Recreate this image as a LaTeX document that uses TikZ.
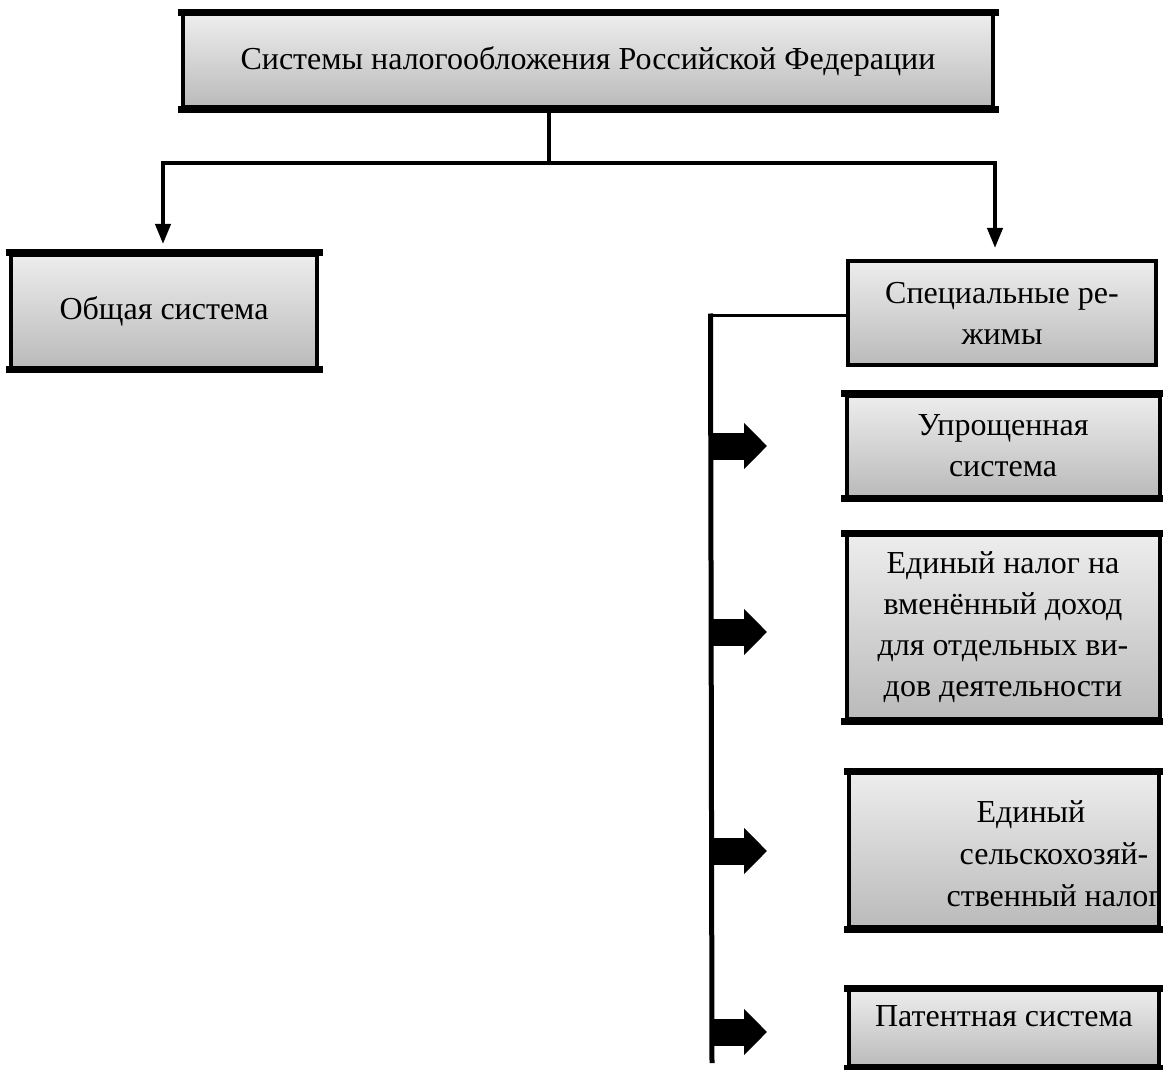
\documentclass[tikz,border=0pt]{standalone}
\usepackage{fontspec}
\setmainfont{Liberation Serif}
\usetikzlibrary{arrows.meta}
\begin{document}
\begin{tikzpicture}[x=1pt,y=-1pt,
  box/.style={draw=black, line width=4pt, top color=black!7, bottom color=black!27,
    inner sep=0pt, align=center, font=\fontsize{32}{41}\selectfont},
  edge/.style={line width=7pt, line cap=rect},
  thin/.style={line width=4pt},
  trunk/.style={line width=5pt},
  down/.style={line width=4pt, -{Triangle[length=20pt,width=15pt]}},
  blockarrow/.style={line width=27pt, -{Triangle[length=23pt,width=45pt]}}]
\useasboundingbox[fill=white] (0,0) rectangle (1163,1070);

\node[box, minimum width=810pt, minimum height=93pt] (top) at (588,61)
  {Системы налогообложения Российской Федерации};
\node[box, minimum width=306pt, minimum height=113pt] (gen) at (164,311) {Общая система};
\node[box, minimum width=308pt, minimum height=104pt, line width=3.5pt] (spec) at (1002,313)
  {Специальные ре-\\ жимы};
\node[box, minimum width=313pt, minimum height=101pt] (usn) at (1003,446)
  {Упрощенная\\ система};
\node[box, minimum width=313pt, minimum height=184pt] (envd) at (1003,627)
  {Единый налог на\\ вменённый доход\\ для отдельных ви-\\ дов деятельности};
\node[box, minimum width=310pt, minimum height=154pt,
  path picture={\node[align=center, font=\fontsize{32}{42}\selectfont]
    at ([xshift=50pt, yshift=-4pt]path picture bounding box.center)
    {Единый\hspace*{46pt}\\ сельскохозяй-\\ ственный налог};}] (eshn) at (1004,850) {};
\node[box, minimum width=310pt, minimum height=76pt, text depth=24pt] (pat) at (1004,1028)
  {Патентная система};

% heavier top and bottom edges
\foreach \n in {top,gen,usn,envd,eshn,pat}{
  \draw[edge] (\n.north west) -- (\n.north east);
  \draw[edge] (\n.south west) -- (\n.south east);
}

% top tree
\coordinate (hub) at (549,163);
\coordinate (hl) at (163,163);
\coordinate (hr) at (995,163);
\draw[thin] (top.south -| hub) -- (hub);
\draw[thin, line cap=rect] (hl) -- (hr);
\draw[down] (hl) -- (163,244);
\draw[down] (hr) -- (995,248);

% special regimes trunk
\coordinate (t0) at (712,315);
\coordinate (t1) at (712,1063);
\draw[line width=3pt] (spec.west |- t0) -- (t0);
\draw[trunk] (710.5,313.5) -- (t1);

\foreach \n/\y in {usn/446, envd/632, eshn/851, pat/1032}{
  \coordinate (a\n) at (712,\y);
  \draw[blockarrow] (a\n) -- (767,\y);
}
\end{tikzpicture}
\end{document}
